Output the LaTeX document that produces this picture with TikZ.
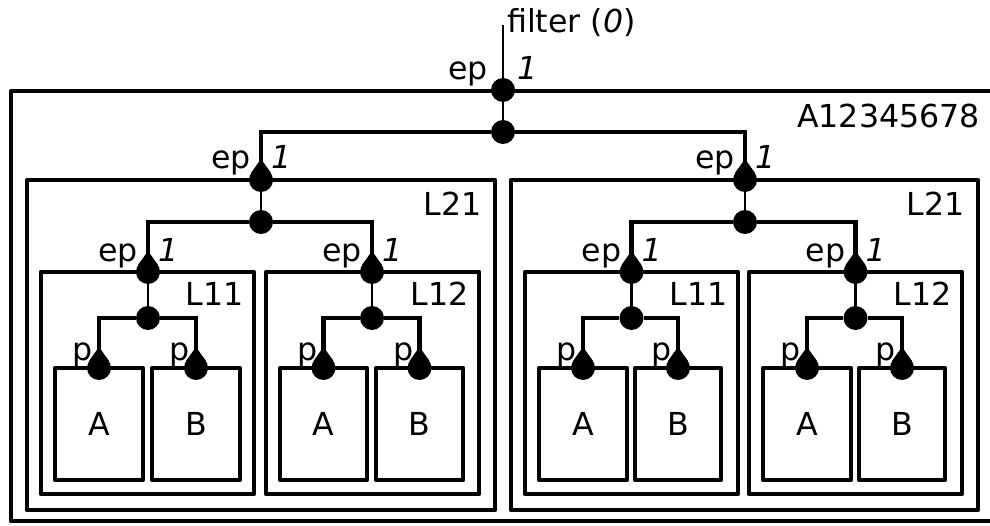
\documentclass[tikz,border=0pt]{standalone}
\usepackage{fontspec}
\setmainfont{DejaVu Sans}
\tikzset{
  box/.style={draw, line width=3.6pt, line join=round},
  bus/.style={line width=3.6pt},
  stem/.style={line width=2.2pt},
  port/.style={circle, fill, inner sep=0pt, minimum size=0.72cm},
  tag/.style={anchor=base east, inner sep=0pt},
  num/.style={anchor=base west, inner sep=0pt}
}
\newcommand{\droptip}[1]{\fill (#1.35) -- ([yshift=0.63cm]#1.center) -- (#1.145) -- cycle;}

\begin{document}
\begin{tikzpicture}[x=0.03cm, y=0.03cm, font=\fontsize{27}{32}\selectfont]
	\useasboundingbox (0,0) rectangle (990,525);

	\draw[box] (11,4) rectangle (994,434);
	\node[tag] (nTop) at (980,397) {A12345678};

	\draw[box] (27,15) rectangle (495,345);
	\node[tag] (nL21a) at (482,309) {L21};
	\draw[box] (41,31) rectangle (254,253);
	\node[tag] (nL11a) at (244,220) {L11};
	\draw[box] (266,31) rectangle (479,253);
	\node[tag] (nL12a) at (469,220) {L12};
	\draw[box] (55,45) rectangle (143,157);
	\node (tAa1) at (99,101) {A};
	\draw[box] (152,45) rectangle (240,157);
	\node (tBa1) at (196,101) {B};
	\draw[box] (280,45) rectangle (367,157);
	\node (tAa2) at (323.5,101) {A};
	\draw[box] (376,45) rectangle (463,157);
	\node (tBa2) at (419.5,101) {B};

	\draw[box] (511,15) rectangle (978,345);
	\node[tag] (nL21b) at (965,309) {L21};
	\draw[box] (525,31) rectangle (738,253);
	\node[tag] (nL11b) at (728,220) {L11};
	\draw[box] (749,31) rectangle (962,253);
	\node[tag] (nL12b) at (952,220) {L12};
	\draw[box] (539,45) rectangle (627,157);
	\node (tAb1) at (583,101) {A};
	\draw[box] (635,45) rectangle (721,157);
	\node (tBb1) at (678,101) {B};
	\draw[box] (763,45) rectangle (851,157);
	\node (tAb2) at (807,101) {A};
	\draw[box] (859,45) rectangle (945,157);
	\node (tBb2) at (902,101) {B};

	% ports and junctions
	\node[port] (pTop) at (503,435) {};
	\node[port] (jTop) at (503,393) {};
	\coordinate (cIn) at (503,500);

	\node[port] (pL21a) at (261,345) {};
	\node[port] (jL21a) at (261,303) {};
	\node[port] (pL11a) at (148,253) {};
	\node[port] (jL11a) at (148,207) {};
	\node[port] (pL12a) at (372,253) {};
	\node[port] (jL12a) at (372,207) {};
	\node[port] (pAa1) at (99,157) {};
	\node[port] (pBa1) at (196,157) {};
	\node[port] (pAa2) at (323.5,157) {};
	\node[port] (pBa2) at (419.5,157) {};

	\node[port] (pL21b) at (745,345) {};
	\node[port] (jL21b) at (745,303) {};
	\node[port] (pL11b) at (631.5,253) {};
	\node[port] (jL11b) at (631.5,207) {};
	\node[port] (pL12b) at (855.5,253) {};
	\node[port] (jL12b) at (855.5,207) {};
	\node[port] (pAb1) at (583,157) {};
	\node[port] (pBb1) at (678,157) {};
	\node[port] (pAb2) at (807,157) {};
	\node[port] (pBb2) at (902,157) {};

	\droptip{pL21a} \droptip{pL11a} \droptip{pL12a}
	\droptip{pAa1} \droptip{pBa1} \droptip{pAa2} \droptip{pBa2}
	\droptip{pL21b} \droptip{pL11b} \droptip{pL12b}
	\droptip{pAb1} \droptip{pBb1} \droptip{pAb2} \droptip{pBb2}

	% wiring
	\draw[stem] (pTop) -- (cIn);
	\draw[stem] (pTop) -- (jTop);
	\draw[bus] (pL21a) |- (jTop) -| (pL21b);

	\draw[stem] (pL21a) -- (jL21a);
	\draw[bus] (pL11a) |- (jL21a) -| (pL12a);
	\draw[stem] (pL11a) -- (jL11a);
	\draw[bus] (pAa1) |- (jL11a) -| (pBa1);
	\draw[stem] (pL12a) -- (jL12a);
	\draw[bus] (pAa2) |- (jL12a) -| (pBa2);

	\draw[stem] (pL21b) -- (jL21b);
	\draw[bus] (pL11b) |- (jL21b) -| (pL12b);
	\draw[stem] (pL11b) -- (jL11b);
	\draw[bus] (pAb1) |- (jL11b) -| (pBb1);
	\draw[stem] (pL12b) -- (jL12b);
	\draw[bus] (pAb2) |- (jL12b) -| (pBb2);

	% port labels
	\node[num] (lIn) at (507,492) {filter (\textit{0})};
	\node[tag] (eTop) at ([shift={(-15,10)}]pTop.center) {ep};
	\node[num] (oTop) at ([shift={(14,10)}]pTop.center) {\textit{1}};

	\node[tag] (eL21a) at ([shift={(-10,11)}]pL21a.center) {ep};
	\node[num] (oL21a) at ([shift={(10,11)}]pL21a.center) {\textit{1}};
	\node[tag] (eL11a) at ([shift={(-10,11)}]pL11a.center) {ep};
	\node[num] (oL11a) at ([shift={(10,11)}]pL11a.center) {\textit{1}};
	\node[tag] (eL12a) at ([shift={(-10,11)}]pL12a.center) {ep};
	\node[num] (oL12a) at ([shift={(10,11)}]pL12a.center) {\textit{1}};
	\node[tag] (eL21b) at ([shift={(-10,11)}]pL21b.center) {ep};
	\node[num] (oL21b) at ([shift={(10,11)}]pL21b.center) {\textit{1}};
	\node[tag] (eL11b) at ([shift={(-10,11)}]pL11b.center) {ep};
	\node[num] (oL11b) at ([shift={(10,11)}]pL11b.center) {\textit{1}};
	\node[tag] (eL12b) at ([shift={(-10,11)}]pL12b.center) {ep};
	\node[num] (oL12b) at ([shift={(10,11)}]pL12b.center) {\textit{1}};

	\node[tag] (qAa1) at ([shift={(-6,8)}]pAa1.center) {p};
	\node[tag] (qBa1) at ([shift={(-6,8)}]pBa1.center) {p};
	\node[tag] (qAa2) at ([shift={(-6,8)}]pAa2.center) {p};
	\node[tag] (qBa2) at ([shift={(-6,8)}]pBa2.center) {p};
	\node[tag] (qAb1) at ([shift={(-6,8)}]pAb1.center) {p};
	\node[tag] (qBb1) at ([shift={(-6,8)}]pBb1.center) {p};
	\node[tag] (qAb2) at ([shift={(-6,8)}]pAb2.center) {p};
	\node[tag] (qBb2) at ([shift={(-6,8)}]pBb2.center) {p};
\end{tikzpicture}
\end{document}
